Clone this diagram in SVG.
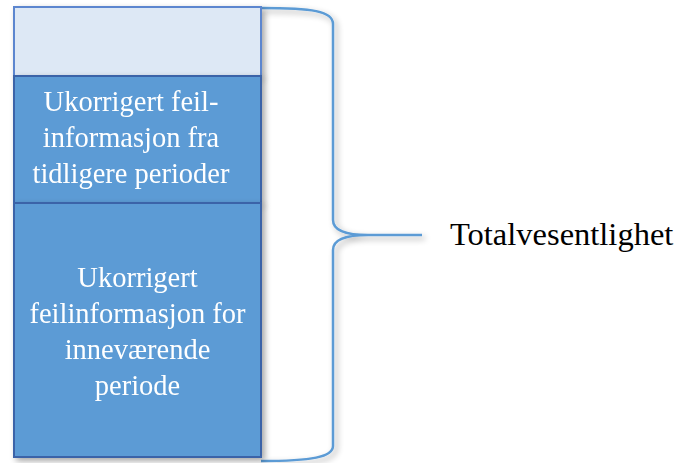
<svg xmlns="http://www.w3.org/2000/svg" width="676" height="463" viewBox="0 0 676 463">
<defs>
<filter id="sh" x="-20%" y="-20%" width="150%" height="150%">
<feGaussianBlur in="SourceAlpha" stdDeviation="3"/>
<feOffset dx="3" dy="3" result="b"/>
<feComponentTransfer><feFuncA type="linear" slope="0.35"/></feComponentTransfer>
<feMerge><feMergeNode/><feMergeNode in="SourceGraphic"/></feMerge>
</filter>
<style>
.box{stroke:#3A64A8;stroke-width:2}
.light{fill:#DDE8F5;stroke:#5B86CF}
.dark{fill:#5B9BD5}
.t{font-family:"Liberation Serif","Times New Roman",serif;font-size:28.5px;fill:#FFFFFF;text-anchor:middle}
.lbl{font-family:"Liberation Serif","Times New Roman",serif;font-size:32.5px;fill:#000000}
</style>
</defs>
<rect width="676" height="463" fill="#FFFFFF"/>
<g id="connectors">
<path d="M261,8 C312,8 333,11 333,24 L333,220 C333,229 343,235 368,235 L422,235 M368,235 C343,235 333,241 333,250 L333,446 C333,457 312,461 261,461" fill="none" stroke="#5B9BD5" stroke-width="2.5" filter="url(#sh)"/>
</g>
<g id="node-top" filter="url(#sh)">
<rect class="box light" x="14" y="7" width="247" height="69"/>
</g>
<g id="node-previous" filter="url(#sh)">
<rect class="box dark" x="14" y="76" width="247" height="127"/>
<text class="t" x="131" y="111">Ukorrigert feil-</text>
<text class="t" x="131" y="147">informasjon fra</text>
<text class="t" x="131" y="183">tidligere perioder</text>
</g>
<g id="node-current" filter="url(#sh)">
<rect class="box dark" x="14" y="203" width="247" height="254"/>
<text class="t" x="137.5" y="287">Ukorrigert</text>
<text class="t" x="137.5" y="323">feilinformasjon for</text>
<text class="t" x="137.5" y="359">inneværende</text>
<text class="t" x="137.5" y="395">periode</text>
</g>
<g id="node-label">
<text class="lbl" x="450" y="245">Totalvesentlighet</text>
</g>
</svg>
